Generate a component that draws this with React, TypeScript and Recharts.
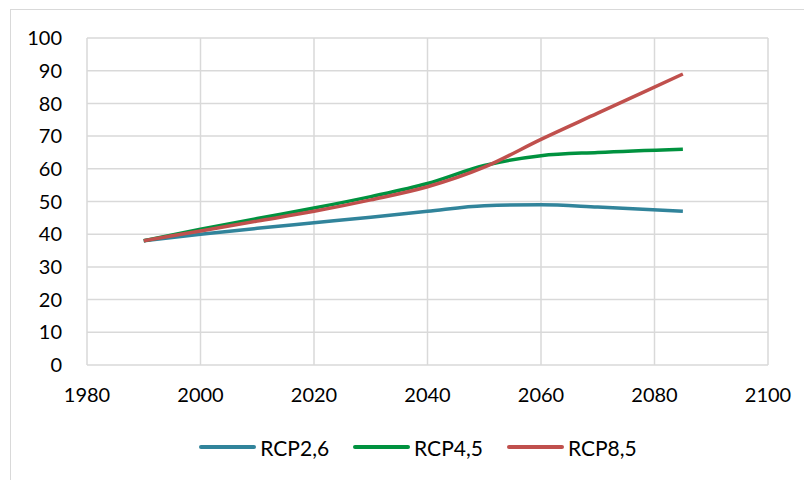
import React from 'react';
import { LineChart, Line, XAxis, YAxis, CartesianGrid, Legend } from 'recharts';

const years = [1990, 2000, 2010, 2020, 2030, 2040, 2050, 2060, 2070, 2085];
const rcp26 = [38, 40, 41.8, 43.5, 45.2, 47, 48.7, 49, 48.3, 47];
const rcp45 = [38, 41.5, 44.8, 48, 51.5, 55.5, 61, 64, 65, 66];
const rcp85 = [38, 41, 44, 47, 50.5, 54.5, 60.5, 69, 77, 89];

const xTicks = [1980, 2000, 2020, 2040, 2060, 2080, 2100];
const yTicks = [0, 10, 20, 30, 40, 50, 60, 70, 80, 90, 100];

const seriesInfo = [
  { key: 'rcp26', name: 'RCP2,6', color: '#31849B' },
  { key: 'rcp45', name: 'RCP4,5', color: '#00923F' },
  { key: 'rcp85', name: 'RCP8,5', color: '#C0504D' },
];

const data = years.map((year, i) => ({
  year,
  rcp26: rcp26[i],
  rcp45: rcp45[i],
  rcp85: rcp85[i],
}));

const FONT = 'Lato, "Open Sans", sans-serif';

const LegendContent = () => (
  <div style={{ display: 'flex', justifyContent: 'center', alignItems: 'center', height: 24, paddingLeft: 60, fontFamily: FONT, fontSize: 21, color: '#000' }}>
    {seriesInfo.map((s) => (
      <div key={s.key} style={{ display: 'flex', alignItems: 'center', margin: '0 12px' }}>
        <svg width={57} height={8} style={{ marginRight: 4 }}>
          <line x1={2} y1={4} x2={55} y2={4} stroke={s.color} strokeWidth={4} strokeLinecap="round" />
        </svg>
        <span>{s.name}</span>
      </div>
    ))}
  </div>
);

export default function App() {
  return (
    <div style={{ position: 'relative', width: 804, height: 472, overflow: 'hidden' }}>
      <div style={{ position: 'absolute', left: 2, top: 1, width: 900, height: 600, border: '1px solid #d9d9d9', boxSizing: 'border-box' }} />
      <LineChart width={804} height={472} data={data} margin={{ top: 30, right: 44, left: 0, bottom: 21 }}>
        <CartesianGrid stroke="#d9d9d9" strokeWidth={1.5} />
        <XAxis
          dataKey="year"
          type="number"
          domain={[1980, 2100]}
          ticks={xTicks}
          axisLine={false}
          tickLine={false}
          tickSize={0}
          tickMargin={23}
          height={70}
          tick={{ fill: '#000', fontSize: 20, fontFamily: FONT }}
        />
        <YAxis
          type="number"
          domain={[0, 100]}
          ticks={yTicks}
          axisLine={false}
          tickLine={false}
          tickSize={0}
          tickMargin={25}
          width={79}
          tick={{ fill: '#000', fontSize: 20, fontFamily: FONT }}
        />
        <Legend verticalAlign="bottom" content={<LegendContent />} wrapperStyle={{ height: 24 }} />
        {seriesInfo.map((s) => (
          <Line
            key={s.key}
            dataKey={s.key}
            name={s.name}
            type="monotone"
            stroke={s.color}
            strokeWidth={3.5}
            dot={false}
            isAnimationActive={false}
          />
        ))}
      </LineChart>
    </div>
  );
}
